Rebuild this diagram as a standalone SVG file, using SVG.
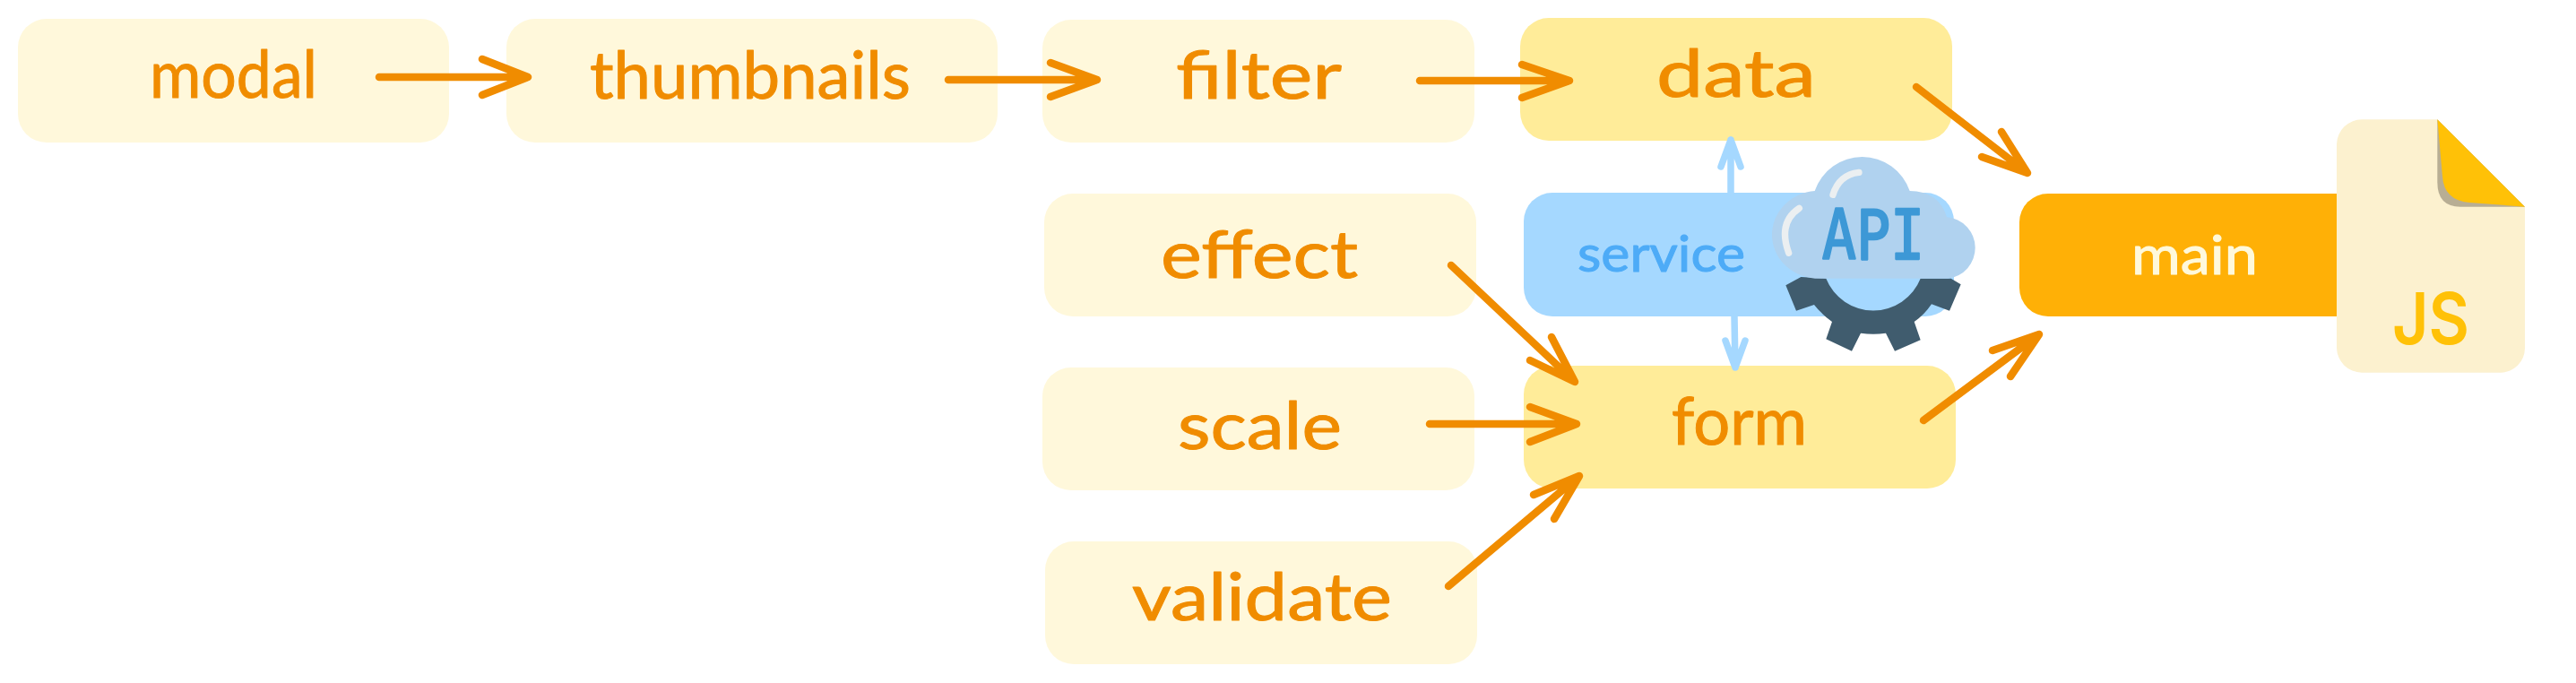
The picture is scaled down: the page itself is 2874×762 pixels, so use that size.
<svg xmlns="http://www.w3.org/2000/svg" width="2874" height="762" viewBox="0 0 2874 762">
<style>
.pale{fill:#fff8db}
.mid{fill:#ffec99}
.blue{fill:#a5d8ff}
.or{fill:#ffb006}
text.l{font-family:"Lato","Liberation Sans",sans-serif;font-size:74px;fill:#f08c00;stroke:#f08c00;stroke-width:1px;stroke-linejoin:round}
.a{fill:none;stroke:#f08c00;stroke-width:8.5;stroke-linecap:round;stroke-linejoin:round}
.b{fill:none;stroke:#a5d8ff;stroke-width:7.5;stroke-linecap:round;stroke-linejoin:round}
.hl{fill:none;stroke:#ebeff1;stroke-width:22;stroke-linecap:round}
</style>
<rect width="2874" height="762" fill="#ffffff"/>
<g id="node-modal"><rect class="pale" x="20" y="21" width="481" height="138" rx="32"/><text class="l" x="167" y="109" textLength="187" lengthAdjust="spacingAndGlyphs">modal</text></g>
<g id="node-thumbnails"><rect class="pale" x="565" y="21" width="548" height="138" rx="32"/><text class="l" x="658" y="110" textLength="358" lengthAdjust="spacingAndGlyphs">thumbnails</text></g>
<g id="node-filter"><rect class="pale" x="1163" y="22" width="482" height="137" rx="32"/><text class="l" x="1312" y="110" textLength="185" lengthAdjust="spacingAndGlyphs">filter</text></g>
<g id="node-data"><rect class="mid" x="1696" y="20" width="482" height="137" rx="32"/><text class="l" x="1848" y="108" textLength="178" lengthAdjust="spacingAndGlyphs">data</text></g>
<g id="node-effect"><rect class="pale" x="1165" y="216" width="482" height="137" rx="32"/><text class="l" x="1295" y="310" textLength="220" lengthAdjust="spacingAndGlyphs">effect</text></g>
<g id="node-scale"><rect class="pale" x="1163" y="410" width="482" height="137" rx="32"/><text class="l" x="1314" y="501" textLength="183" lengthAdjust="spacingAndGlyphs">scale</text></g>
<g id="node-validate"><rect class="pale" x="1166" y="604" width="482" height="137" rx="32"/><text class="l" x="1263" y="692" textLength="290" lengthAdjust="spacingAndGlyphs">validate</text></g>
<g id="node-service"><rect class="blue" x="1700" y="215" width="480" height="138" rx="32"/><text class="l" x="1760" y="303" textLength="187" lengthAdjust="spacingAndGlyphs" style="fill:#4dabf7;stroke:#4dabf7;font-size:56px">service</text></g>
<g id="node-form"><rect class="mid" x="1700" y="408" width="482" height="137" rx="32"/><text class="l" x="1865" y="496" textLength="151" lengthAdjust="spacingAndGlyphs">form</text></g>
<g id="node-main"><rect class="or" x="2253" y="216" width="482" height="137" rx="32"/><text class="l" x="2378" y="306" textLength="141" lengthAdjust="spacingAndGlyphs" style="fill:#fff9db;stroke:#fff9db;font-size:60px">main</text></g>
<g id="connectors">
<path class="a" d="M423 86H589M538 66L589 86L538 106"/>
<path class="a" d="M1058 89H1224M1172 70L1224 89L1172 108"/>
<path class="a" d="M1584 90H1751M1698 72L1751 90L1698 109"/>
<path class="a" d="M2138 97L2262 193M2233 147L2262 193L2211 175"/>
<path class="a" d="M1619 296L1757 426M1731 376L1757 426L1707 402"/>
<path class="a" d="M1595 473H1759M1707 454L1759 473L1707 493"/>
<path class="a" d="M1616 654L1762 531M1711 552L1762 531L1734 579"/>
<path class="a" d="M2146 469L2275 373M2223 391L2275 373L2243 420"/>
<path class="b" d="M1931 215V156M1920 186L1931 156L1942 186"/>
<path class="b" d="M1935 353L1936 410M1925 380L1936 410L1947 380"/>
</g>
<g id="icon-api" transform="translate(1960 160) scale(0.33333)">
<path fill="#405c6e" d="M97 475L148 447L232 452A170 170 0 0 0 548 452L650 452L683 472L645 560L585 538Q560 575 527 597L548 658L462 695L432 635Q390 642 348 635L318 695L232 655L252 597Q215 570 192 540L132 560Z"/>
<path fill="#b0d2ef" d="M195 452A157 147 0 0 1 195 159L194 159A168 168 0 0 1 512 159Q610 160 636 247A103 103 0 0 1 640 452Z"/>
<path class="hl" d="M342 97Q275 105 255 172"/>
<path class="hl" d="M142 217Q70 265 107 367"/>
<text x="218" y="388" font-family="'DejaVu Sans Mono','Liberation Mono',monospace" font-size="232" fill="#3d98d6" stroke="#3d98d6" stroke-width="7" stroke-linejoin="round" textLength="344" lengthAdjust="spacingAndGlyphs">API</text>
</g>
<g id="icon-js" transform="translate(2590 120) scale(0.33333)">
<path fill="#fcf1cf" d="M135 40L388 40L681 332L681 805A82 82 0 0 1 600 887L135 887A84 84 0 0 1 51 805L51 122A84 84 0 0 1 135 40Z"/>
<path fill="#b8ae94" d="M388 40L681 332L465 332Q388 332 388 250Z"/>
<path fill="#ffc107" d="M388 40L681 332L495 318Q410 310 405 230Z"/>
<text x="237" y="792" font-family="Inter,'Liberation Sans',sans-serif" font-weight="600" font-size="240" fill="#ffc107" textLength="258" lengthAdjust="spacingAndGlyphs">JS</text>
</g>
</svg>
